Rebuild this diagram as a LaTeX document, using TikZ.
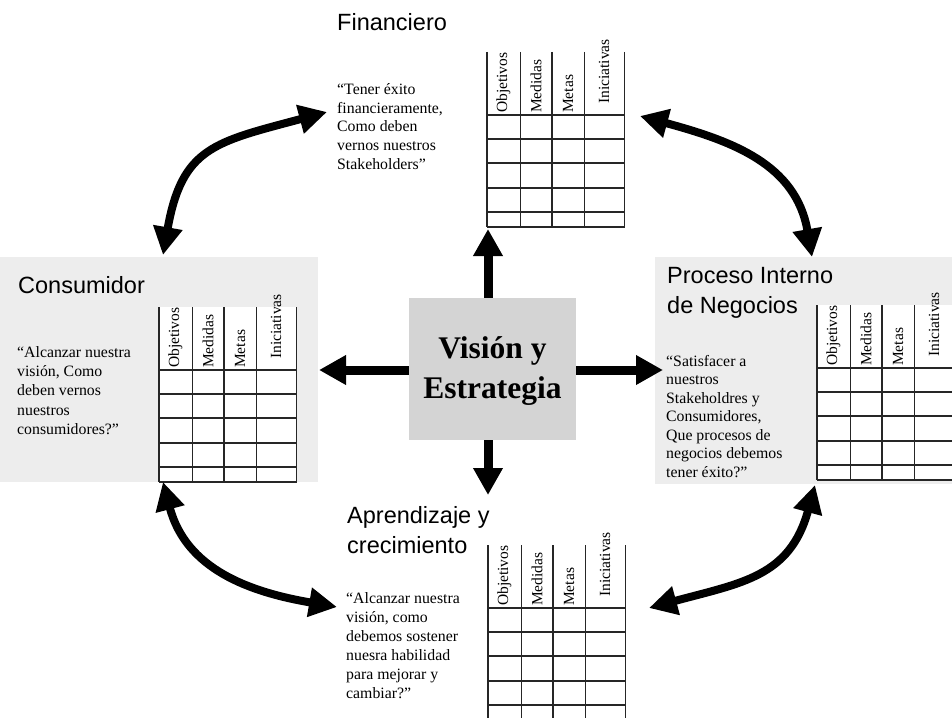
\documentclass[tikz,border=0pt]{standalone}
\usepackage{fontspec}
\setmainfont{Liberation Serif}
\newfontfamily\headfont{Liberation Sans}
\usetikzlibrary{arrows.meta}

\begin{document}
\begin{tikzpicture}[x=1pt,y=-1pt,
  grid/.style={line width=1.5pt, draw=black!85},
  colhead/.style={rotate=90, anchor=west, inner sep=0pt, font=\fontsize{15.5}{17}\selectfont},
  title/.style={inner sep=0pt, align=left, font=\headfont\fontsize{23.5}{30}\selectfont},
  quote/.style={inner sep=0pt, align=left, anchor=north west},
  hub/.style={fill=black!17, minimum width=167pt, minimum height=142pt, inner sep=0pt,
    align=center, font=\bfseries\fontsize{31.5}{40}\selectfont},
  spoke/.style={line width=9pt, -{Triangle[length=27pt,width=28pt]}},
  link/.style={line width=8pt, {Triangle[length=28pt,width=28pt]}-{Triangle[length=28pt,width=28pt]}},
  panel/.style={fill=black!7, draw=none},
  scorecard/.pic={
    \fill[white] (0,0) rectangle (137.5,175);
    \foreach \cx in {0,33.5,65,97.5,137.5} \draw[grid] (\cx,0) -- (\cx,175);
    \foreach \ry in {63,87,111,136,160,175} \draw[grid] (0,\ry) -- (137.5,\ry);
    \node[colhead] (-obj) at (16.5,61) {Objetivos};
    \node[colhead] (-med) at (49,61) {Medidas};
    \node[colhead] (-met) at (81,61) {Metas};
    \node[colhead] (-ini) at (117,52) {Iniciativas};
  }
]
\useasboundingbox (0,0) rectangle (952,717);
\clip (0,0) rectangle (952,717);

% shaded backgrounds of the side perspectives
\fill[panel] (0,257) rectangle (318,482);
\fill[panel] (655,257) rectangle (952,484);

% score tables
\pic (fin) at (487,52) {scorecard};
\pic (con) at (159,307) {scorecard};
\pic (pro) at (817,305) {scorecard};
\pic (apr) at (488,545) {scorecard};

% perspective titles
\node[title, anchor=base west] (finT) at (337,31) {Financiero};
\node[title, anchor=base west] (conT) at (18,293) {Consumidor};
\node[title, anchor=north west] (proT) at (667,264.2) {\rule{0pt}{0.8em}Proceso Interno\\de Negocios};
\node[title, anchor=north west] (aprT) at (347,504.2) {\rule{0pt}{0.8em}Aprendizaje y\\crecimiento};

% guiding questions
\node[quote, font=\fontsize{15.8}{18.8}\selectfont] (finQ) at (337,81.4)
  {\rule{0pt}{0.8em}“Tener éxito\\financieramente,\\Como deben\\vernos nuestros\\Stakeholders”};
\node[quote, font=\fontsize{15.8}{19.3}\selectfont] (conQ) at (17,344.4)
  {\rule{0pt}{0.8em}“Alcanzar nuestra\\visión, Como\\deben vernos\\nuestros\\consumidores?”};
\node[quote, font=\fontsize{15.8}{18.5}\selectfont] (proQ) at (666,353.4)
  {\rule{0pt}{0.8em}“Satisfacer a\\nuestros\\Stakeholdres y\\Consumidores,\\Que procesos de\\negocios debemos\\tener éxito?”};
\node[quote, font=\fontsize{15.8}{19}\selectfont] (aprQ) at (346,590.4)
  {\rule{0pt}{0.8em}“Alcanzar nuestra\\visión, como\\debemos sostener\\nuesra habilidad\\para mejorar y\\cambiar?”};

% central hub
\node[hub] (vision) at (492.5,369) {\rule{0pt}{0.8em}Visión y\\Estrategia};

% spokes from the hub
\coordinate (tipN) at (488,229);
\coordinate (tipS) at (488,495);
\coordinate (tipW) at (319,370);
\coordinate (tipE) at (663,370);
\draw[spoke] (vision.north -| tipN) -- (tipN);
\draw[spoke] (vision.south -| tipS) -- (tipS);
\draw[spoke] (vision.west |- tipW) -- (tipW);
\draw[spoke] (vision.east |- tipE) -- (tipE);

% links between neighbouring perspectives
\coordinate (finW) at (327,112);
\coordinate (conN) at (163,255);
\coordinate (finE) at (640,116);
\coordinate (proN) at (812,257);
\coordinate (conS) at (163,482);
\coordinate (aprW) at (337,607);
\coordinate (proS) at (815,485);
\coordinate (aprE) at (649,608);
\draw[link] (conN) .. controls (182,147) and (215,142) .. (finW);
\draw[link] (finE) .. controls (732,141) and (796,164) .. (proN);
\draw[link] (conS) .. controls (186,569) and (249,592) .. (aprW);
\draw[link] (proS) .. controls (790,577) and (741,583) .. (aprE);
\end{tikzpicture}
\end{document}
